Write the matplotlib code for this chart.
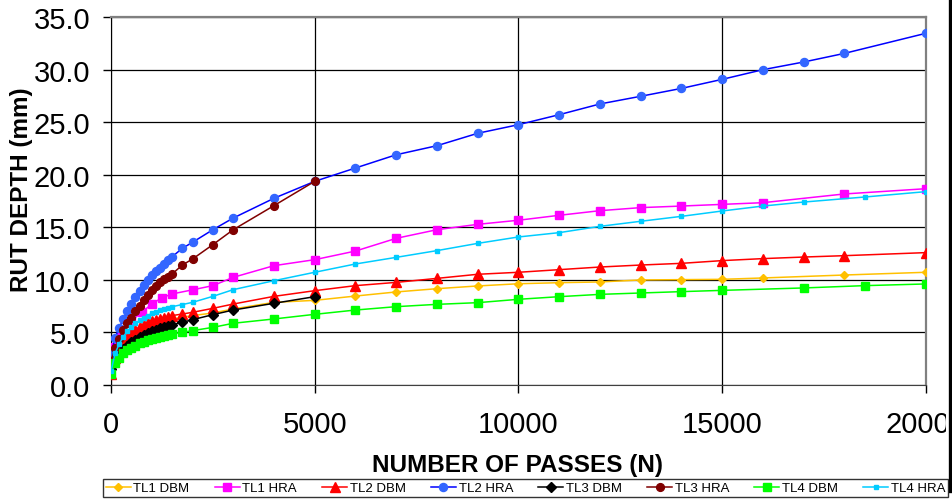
import matplotlib
matplotlib.use("Agg")
import matplotlib.pyplot as plt
from matplotlib.lines import Line2D
from matplotlib.patches import Rectangle

plt.rcParams["font.family"] = ["Liberation Sans", "DejaVu Sans"]

# passes (N) shared by the dense early part of every series
n_early = [0, 100, 200, 300, 400, 500, 600, 700, 800, 900, 1000, 1100, 1200, 1300, 1400, 1500,
           1750, 2000, 2500, 3000, 4000, 5000]

# TL1 DBM
n_tl1_dbm = n_early + [6000, 7000, 8000, 9000, 10000, 11000, 12000, 13000, 14000, 15000, 16000, 18000, 20000]
d_tl1_dbm = [1.2, 2.8, 3.5, 4.0, 4.4, 4.7, 4.95, 5.2, 5.4, 5.55, 5.7, 5.85, 5.95, 6.05, 6.15, 6.25,
             6.45, 6.6, 6.85, 7.23, 7.86, 8.05,
             8.46, 8.85, 9.16, 9.42, 9.63, 9.73, 9.80, 9.99, 10.02, 10.05, 10.18, 10.46, 10.72]
# TL1 HRA
n_tl1_hra = [0, 100, 250, 500, 750, 1000, 1250, 1500, 2000, 2500, 3000, 4000, 5000,
             6000, 7000, 8000, 9000, 10000, 11000, 12000, 13000, 14000, 15000, 16000, 18000, 20000]
d_tl1_hra = [1.9, 3.6, 4.9, 6.1, 6.9, 7.7, 8.3, 8.66, 9.05, 9.45, 10.24, 11.35, 11.92,
             12.74, 13.95, 14.77, 15.28, 15.67, 16.14, 16.58, 16.87, 17.02, 17.18, 17.34, 18.17, 18.67]
# TL2 DBM
n_tl2_dbm = n_early + [6000, 7000, 8000, 9000, 10000, 11000, 12000, 13000, 14000, 15000, 16000, 17000, 18000, 20000]
d_tl2_dbm = [1.0, 2.6, 3.4, 4.0, 4.5, 4.9, 5.2, 5.5, 5.7, 5.9, 6.05, 6.2, 6.3, 6.4, 6.5, 6.6,
             6.75, 6.91, 7.29, 7.70, 8.43, 8.97,
             9.45, 9.76, 10.14, 10.53, 10.72, 10.97, 11.22, 11.41, 11.57, 11.83, 12.02, 12.17, 12.30, 12.59]
# TL2 HRA
n_tl2_hra = n_early + [6000, 7000, 8000, 9000, 10000, 11000, 12000, 13000, 14000, 15000, 16000, 17000, 18000, 20000]
d_tl2_hra = [2.9, 4.5, 5.45, 6.25, 7.0, 7.67, 8.37, 8.98, 9.48, 9.97, 10.45, 10.82, 11.17, 11.53, 11.87, 12.2,
             13.0, 13.57, 14.77, 15.88, 17.76, 19.37,
             20.64, 21.9, 22.76, 23.94, 24.76, 25.71, 26.73, 27.46, 28.21, 29.07, 29.99, 30.72, 31.54, 33.45]
# TL3 DBM
n_tl3_dbm = n_early
d_tl3_dbm = [1.5, 2.4, 3.0, 3.4, 3.75, 4.05, 4.3, 4.55, 4.75, 4.95, 5.1, 5.25, 5.4, 5.52, 5.63, 5.74,
             5.96, 6.21, 6.69, 7.13, 7.77, 8.40]
# TL3 HRA
n_tl3_hra = n_early
d_tl3_hra = [2.3, 3.55, 4.35, 5.2, 5.85, 6.4, 7.0, 7.55, 8.05, 8.55, 9.05, 9.4, 9.75, 10.05, 10.3, 10.56,
             11.41, 11.98, 13.35, 14.77, 17.06, 19.37]
# TL4 DBM
n_tl4_dbm = n_early + [6000, 7000, 8000, 9000, 10000, 11000, 12000, 13000, 14000, 15000, 17000, 18500, 20000]
d_tl4_dbm = [1.0, 2.1, 2.6, 3.0, 3.3, 3.55, 3.75, 3.95, 4.1, 4.25, 4.4, 4.5, 4.6, 4.7, 4.78, 4.85,
             5.01, 5.17, 5.48, 5.87, 6.28, 6.72,
             7.13, 7.45, 7.67, 7.83, 8.15, 8.40, 8.62, 8.75, 8.88, 9.00, 9.23, 9.45, 9.61]
# TL4 HRA
n_tl4_hra = n_early + [6000, 7000, 8000, 9000, 10000, 11000, 12000, 13000, 14000, 15000, 16000, 17000, 18500, 20000]
d_tl4_hra = [1.3, 3.0, 3.9, 4.6, 5.1, 5.5, 5.85, 6.15, 6.4, 6.6, 6.8, 6.95, 7.1, 7.25, 7.35, 7.45,
             7.65, 7.86, 8.43, 9.07, 9.92, 10.72,
             11.51, 12.14, 12.78, 13.47, 14.08, 14.49, 15.09, 15.57, 16.04, 16.55, 17.02, 17.40, 17.88, 18.39]

x_ticks = [0, 5000, 10000, 15000, 20000]
y_ticks = [0, 5, 10, 15, 20, 25, 30, 35]

# label, x, y, line colour, marker, marker colour, marker size
series = [
    ("TL1 DBM", n_tl1_dbm, d_tl1_dbm, "#FFC000", "D", "#FFC000", 4.4),
    ("TL1 HRA", n_tl1_hra, d_tl1_hra, "#FF00FF", "s", "#FF00FF", 5.8),
    ("TL2 DBM", n_tl2_dbm, d_tl2_dbm, "#FF0000", "^", "#FF0000", 6.5),
    ("TL2 HRA", n_tl2_hra, d_tl2_hra, "#0000FF", "o", "#3366FF", 5.8),
    ("TL3 DBM", n_tl3_dbm, d_tl3_dbm, "#000000", "D", "#000000", 4.6),
    ("TL3 HRA", n_tl3_hra, d_tl3_hra, "#800000", "o", "#800000", 5.6),
    ("TL4 DBM", n_tl4_dbm, d_tl4_dbm, "#00FF00", "s", "#00FF00", 5.8),
    ("TL4 HRA", n_tl4_hra, d_tl4_hra, "#00CCFF", "s", "#00CCFF", 2.2),
]

fig = plt.figure(figsize=(9.53, 5.02), dpi=100)
ax = fig.add_axes([0.1165, 0.2311, 0.855, 0.733])

for lab, xs, ys, lc, mk, mc, ms in series:
    ax.plot(xs, ys, "-", color=lc, lw=1.1, marker=mk, mfc=mc, mec=mc, ms=ms, label=lab, zorder=3)

ax.set_xlim(0, 20000)
ax.set_ylim(0, 35)
ax.set_xticks(x_ticks)
ax.set_xticklabels([str(v) for v in x_ticks])
ax.set_yticks(y_ticks)
ax.set_yticklabels([f"{v:.1f}" for v in y_ticks])
ax.tick_params(axis="both", direction="out", length=6, width=1, labelsize=21)
ax.tick_params(axis="y", pad=9)
ax.tick_params(axis="x", pad=12)
ax.grid(True, color="black", lw=0.9, zorder=1)
ax.set_axisbelow(True)
ax.spines["left"].set_color("black")
ax.spines["bottom"].set_color("#404040")
for s in ("top", "right"):
    ax.spines[s].set_color("#808080")
    ax.spines[s].set_linewidth(1.6)

fig.text(0.5435, 0.0737, "NUMBER OF PASSES (N)", ha="center", va="center",
         fontsize=17.5, fontweight="bold")
fig.text(0.0225, 0.622, "RUT DEPTH (mm)", ha="center", va="center", rotation=90,
         fontsize=17.5, fontweight="bold")

leg = fig.legend(loc="lower left", bbox_to_anchor=(103 / 953, 4 / 502, 845 / 953, 22 / 502),
                 mode="expand", ncol=8, fontsize=9.5, frameon=True, fancybox=False,
                 handlelength=1.9, handletextpad=0.2, borderpad=0.2, borderaxespad=0,
                 columnspacing=0.5)
leg.get_frame().set_edgecolor("black")
leg.get_frame().set_linewidth(1.0)

# outer frame edge on the right that clips the last tick label
fig.patches.append(Rectangle((946.5 / 953, 0), 6.5 / 953, 1, transform=fig.transFigure,
                             facecolor="white", edgecolor="none", zorder=5))
fig.lines.append(Line2D([950.5 / 953, 950.5 / 953], [0.02, 1], transform=fig.transFigure,
                        color="black", lw=2.4, zorder=6))

fig.savefig("out.png", dpi=100)
